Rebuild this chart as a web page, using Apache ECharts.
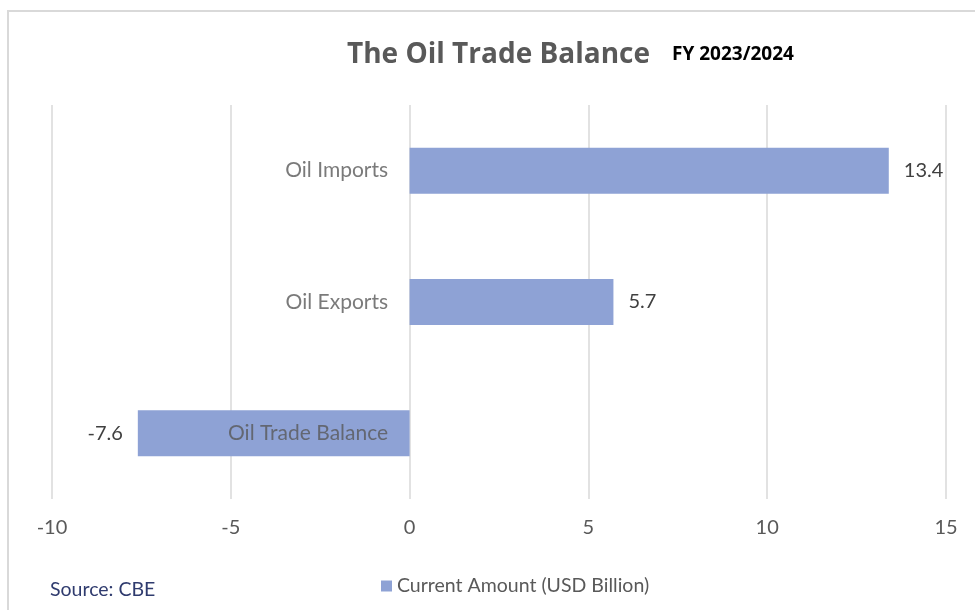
<!DOCTYPE html>
<html>
<head>
<meta charset="utf-8">
<script src="https://cdn.jsdelivr.net/npm/echarts@6/dist/echarts.min.js"></script>
<style>
  html, body { margin: 0; padding: 0; background: #ffffff; }
  #frame { position: absolute; left: 7px; top: 10px; width: 980px; height: 620px;
           border-left: 2px solid #d9d9d9; border-top: 2px solid #d9d9d9; box-sizing: border-box; }
  #chart { position: absolute; left: 0; top: 0; width: 975px; height: 610px; }
</style>
</head>
<body>
<div id="frame"></div>
<div id="chart"></div>
<script>
// Categories listed bottom-to-top (ECharts draws the first category at the bottom)
const categories = ['Oil Trade Balance', 'Oil Exports', 'Oil Imports'];
const amounts = [-7.6, 5.7, 13.4];
const seriesName = 'Current Amount (USD Billion)';
const xTicks = { min: -10, max: 15, interval: 5 };

const textGray = '#595959';
const font = 'Lato, "Open Sans", sans-serif';

const chart = echarts.init(document.getElementById('chart'), null, { renderer: 'canvas' });

chart.setOption({
  backgroundColor: 'transparent',
  animation: false,
  title: {
    text: '{main|The Oil Trade Balance}{sub|FY 2023/2024}',
    left: 342,
    top: 36,
    textStyle: {
      rich: {
        main: { fontFamily: '"Open Sans", sans-serif', fontSize: 28, fontWeight: 'bold', color: textGray },
        sub: { fontFamily: '"Open Sans", sans-serif', fontSize: 19, fontWeight: 'bold', color: '#000000',
               padding: [0, 0, 0, 22] }
      }
    }
  },
  graphic: [{
    type: 'text',
    left: 50,
    top: 580,
    style: { text: 'Source: CBE', fontFamily: font, fontSize: 19.5, fill: '#2f3b6e' }
  }],
  legend: {
    data: [seriesName],
    left: 376,
    top: 571,
    icon: 'rect',
    itemWidth: 11,
    itemHeight: 11,
    itemGap: 8,
    textStyle: { fontFamily: font, fontSize: 19.5, color: textGray }
  },
  grid: { left: 52, right: 29, top: 105, bottom: 111, containLabel: false, outerBoundsMode: 'none' },
  xAxis: {
    type: 'value',
    min: xTicks.min,
    max: xTicks.max,
    interval: xTicks.interval,
    axisLine: { show: false },
    axisTick: { show: false },
    splitLine: { show: true, lineStyle: { color: '#d9d9d9', width: 1.5 } },
    axisLabel: { fontFamily: font, fontSize: 20, color: textGray, margin: 19 }
  },
  yAxis: {
    type: 'category',
    data: categories,
    axisLine: { show: false },
    axisTick: { show: false },
    splitLine: { show: false },
    axisLabel: { show: false }
  },
  series: [{
    name: seriesName,
    type: 'bar',
    data: amounts.map(v => v < 0 ? { value: v, label: { position: 'left' } } : v),
    barWidth: 46,
    itemStyle: { color: '#8ea2d5' },
    label: {
      show: true,
      fontFamily: font,
      fontSize: 20,
      color: '#404040',
      distance: 15,
      position: 'right',
      formatter: p => p.value.toFixed(1)
    }
  }, {
    // category names sit just left of the zero line, drawn over the bars
    name: 'category labels',
    type: 'scatter',
    z: 5,
    silent: true,
    symbol: 'circle',
    symbolSize: 1,
    data: categories.map(c => [0, c]),
    itemStyle: { color: 'rgba(0,0,0,0)' },
    label: {
      show: true,
      position: 'left',
      distance: 21,
      fontFamily: font,
      fontSize: 21,
      color: textGray,
      formatter: p => p.value[1]
    }
  }]
});
</script>
</body>
</html>
